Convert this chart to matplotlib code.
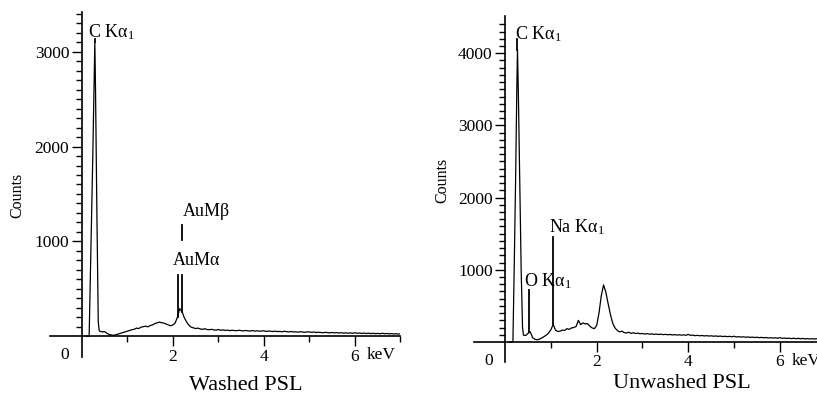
import numpy as np
import matplotlib
matplotlib.use("Agg")
import matplotlib.pyplot as plt

plt.rcParams['font.family'] = ['Liberation Serif', 'DejaVu Serif']
plt.rcParams['mathtext.fontset'] = 'custom'
plt.rcParams['mathtext.rm'] = 'Liberation Serif'
plt.rcParams['mathtext.it'] = 'Liberation Serif:italic'

# ---------------- data: washed PSL ----------------
washed_peak_e = [0.10, 0.16, 0.20, 0.24, 0.27, 0.285, 0.30, 0.33, 0.36, 0.38]
washed_peak_c = [0, 0, 950, 1900, 2700, 3100, 2600, 1300, 150, 60]
washed_cont_c = [
    50, 45, 48, 30, 18, 12, 8, 15, 22, 30,
    38, 45, 52, 60, 68, 72, 85, 80, 95, 100,
    105, 98, 112, 118, 132, 140, 148, 142, 138, 128,
    118, 110, 118, 140, 200, 290, 260, 195, 150, 115,
    95, 88, 80, 85, 76, 72, 78, 70, 68, 72,
    66, 64, 70, 62, 66, 60, 64, 58, 62, 60,
    57, 63, 58, 55, 60, 56, 54, 59, 53, 57,
    52, 55, 56, 50, 54, 51, 49, 53, 48, 50,
    46, 52, 47, 45, 49, 44, 46, 42, 47, 43,
    41, 45, 44, 40, 43, 38, 41, 39, 36, 40,
    37, 35, 39, 34, 37, 33, 36, 32, 35, 31,
    34, 30, 36, 30, 33, 29, 32, 28, 31, 27,
    30, 26, 29, 25, 30, 26, 28, 24, 27, 23,
    26, 22, 25,
]

# ---------------- data: unwashed PSL ----------------
unwashed_peak_e = [0.10, 0.17, 0.20, 0.23, 0.255, 0.27, 0.29, 0.32, 0.35, 0.38]
unwashed_peak_c = [0, 0, 1100, 2300, 3500, 4050, 3400, 2200, 1000, 200]
unwashed_cont_c = [
    95, 90, 120, 140, 60, 38, 30, 40, 55, 75,
    95, 125, 170, 245, 165, 145, 150, 165, 160, 185,
    175, 195, 200, 215, 300, 240, 265, 250, 255, 220,
    195, 185, 230, 400, 640, 790, 690, 530, 380, 260,
    195, 160, 140, 150, 130, 125, 135, 120, 128, 118,
    122, 115, 118, 110, 116, 108, 113, 105, 110, 104,
    108, 102, 106, 100, 104, 98, 102, 96, 100, 95,
    99, 93, 105, 92, 95, 88, 92, 86, 90, 84,
    88, 82, 86, 80, 84, 78, 82, 76, 80, 74,
    78, 72, 80, 70, 74, 68, 72, 66, 70, 64,
    68, 62, 66, 60, 64, 58, 62, 56, 60, 55,
    58, 53, 60, 51, 55, 49, 53, 47, 52, 46,
    50, 45, 49, 43, 47, 42, 46, 41, 45, 40,
    44, 39, 42,
]

cont_e = np.round(np.arange(0.40, 7.0001, 0.05), 2)

# peak marker lines: (energy, bottom count, top count)
washed_markers = [(0.285, 3100, 3140), (2.12, 200, 645), (2.20, 260, 645), (2.20, 1010, 1170)]
washed_labels = [("C Kα$_1$", 0.13, 3207), ("AuMα", 2.0, 800), ("AuMβ", 2.21, 1310)]
unwashed_markers = [(0.27, 4050, 4200), (0.53, 140, 717), (1.04, 245, 1455)]
unwashed_labels = [("C Kα$_1$", 0.22, 4270), ("O Kα$_1$", 0.41, 840), ("Na Kα$_1$", 0.95, 1590)]

W, H = 817, 400
fig = plt.figure(figsize=(W / 100, H / 100), dpi=100)

def setup(ax, xlim, ylim, ymajor, yminor):
    ax.set_xlim(*xlim)
    ax.set_ylim(*ylim)
    for s in ['top', 'right']:
        ax.spines[s].set_visible(False)
    ax.spines['left'].set_position(('data', 0))
    ax.spines['bottom'].set_position(('data', 0))
    for s in ['left', 'bottom']:
        ax.spines[s].set_linewidth(1.2)
    ax.set_xticks([2, 4, 6])
    ax.set_xticks([1, 3, 5, 7], minor=True)
    ax.set_yticks(ymajor)
    ax.set_yticks(yminor, minor=True)
    ax.tick_params(axis='both', which='major', direction='out', length=7, width=1,
                   labelsize=12.5, pad=2)
    ax.tick_params(axis='both', which='minor', direction='out', length=4, width=1)
    ax.patch.set_visible(False)

def draw(ax, pe, pc, cc, markers, labels):
    e = np.concatenate([pe, cont_e])
    c = np.concatenate([pc, cc])
    ax.plot(e, c, color='black', lw=0.9)
    for (x, y0, y1) in markers:
        ax.plot([x, x], [y0, y1], color='black', lw=1.3)
    for (t, x, y) in labels:
        ax.text(x, y, t, ha='left', va='center', fontsize=13)
    ax.annotate("0", xy=(-0.37, 0), xytext=(0, -19), textcoords='offset pixels',
                ha='center', va='center', fontsize=12.5)
    ax.annotate("keV", xy=(6.26, 0), xytext=(0, -19), textcoords='offset pixels',
                ha='left', va='center', fontsize=12.5, annotation_clip=False)

ax1 = fig.add_axes([50 / W, 43 / H, 350.5 / W, 345 / H])
setup(ax1, (-0.7, 7.0), (-220, 3420), [1000, 2000, 3000],
      [v for v in range(100, 3500, 100) if v % 1000])
draw(ax1, washed_peak_e, washed_peak_c, washed_cont_c, washed_markers, washed_labels)

ax2 = fig.add_axes([474 / W, 38 / H, 351.6 / W, 346 / H])
setup(ax2, (-0.68, 7.0), (-277, 4515), [1000, 2000, 3000, 4000],
      [v for v in range(100, 4500, 100) if v % 1000])
draw(ax2, unwashed_peak_e, unwashed_peak_c, unwashed_cont_c, unwashed_markers, unwashed_labels)

fig.text(246 / W, 1 - 386 / H, "Washed PSL", ha='center', va='center', fontsize=16)
fig.text(682 / W, 1 - 383 / H, "Unwashed PSL", ha='center', va='center', fontsize=16)
fig.text(17 / W, 1 - 195 / H, "Counts", rotation=90, ha='center', va='center', fontsize=11.5)
fig.text(442 / W, 1 - 180 / H, "Counts", rotation=90, ha='center', va='center', fontsize=11.5)

fig.savefig("out.png", dpi=100)
